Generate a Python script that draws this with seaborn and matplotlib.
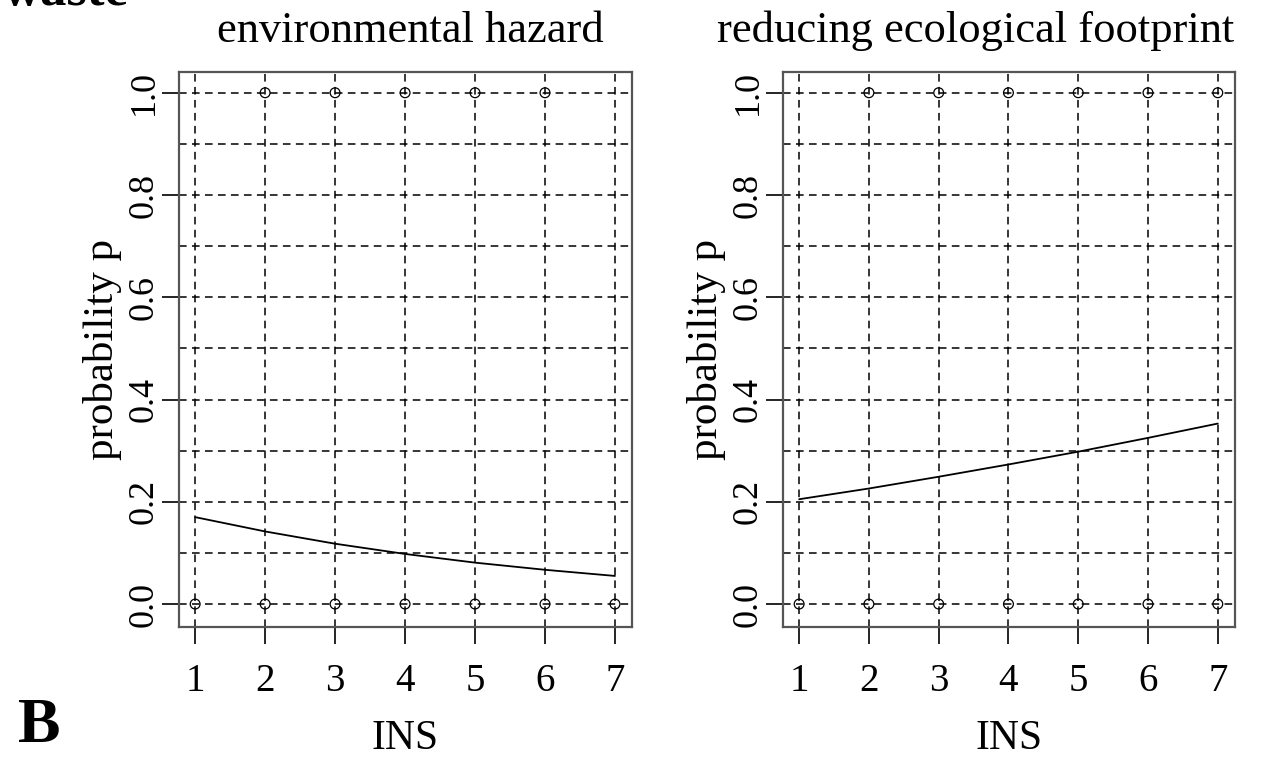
import numpy as np
import pandas as pd
import matplotlib
matplotlib.use("Agg")
import matplotlib.pyplot as plt
import seaborn as sns

# observed responses (open circles)
ins = [1, 2, 3, 4, 5, 6, 7]
hazard_ones = [2, 3, 4, 5, 6]
footprint_ones = [2, 3, 4, 5, 6, 7]
zeros = [1, 2, 3, 4, 5, 6, 7]

# fitted probability curves
hazard_p = [0.170, 0.142, 0.118, 0.098, 0.081, 0.067, 0.055]
footprint_p = [0.205, 0.226, 0.249, 0.273, 0.298, 0.325, 0.353]

titles = ["environmental hazard", "reducing ecological footprint"]
title_x = [0.512, 0.427]

sns.set_style("white")
plt.rcParams['font.family'] = ['Liberation Serif', 'DejaVu Serif']
plt.rcParams['text.color'] = 'black'
plt.rcParams['axes.labelcolor'] = 'black'
plt.rcParams['xtick.color'] = 'black'
plt.rcParams['ytick.color'] = 'black'

fig = plt.figure(figsize=(12.61, 7.61), dpi=100)
ax1 = fig.add_axes([0.142, 0.176, 0.359, 0.729])
ax2 = fig.add_axes([0.621, 0.176, 0.358, 0.729])

panels = [(ax1, hazard_ones, hazard_p, titles[0], title_x[0]),
          (ax2, footprint_ones, footprint_p, titles[1], title_x[1])]

for ax, ones, p, title, tx in panels:
    pts = pd.DataFrame({"x": list(zeros) + list(ones),
                        "y": [0] * len(zeros) + [1] * len(ones)})
    # grid first so it sits under the marks
    for v in np.arange(0, 1.01, 0.1):
        ax.axhline(v, color="black", ls=(0, (5, 3.5)), lw=1.1, zorder=1)
    for v in ins:
        ax.axvline(v, color="black", ls=(0, (5, 3.5)), lw=1.1, zorder=1)
    sns.scatterplot(data=pts, x="x", y="y", ax=ax, marker="o", s=50,
                    facecolor="none", edgecolor="black", linewidth=0.9,
                    zorder=3)
    sns.lineplot(x=ins, y=p, ax=ax, color="black", lw=1.3, zorder=3)
    ax.set_xlim(0.77, 7.24)
    ax.set_ylim(-0.045, 1.04)
    ax.set_xticks(ins)
    ax.set_yticks([0.0, 0.2, 0.4, 0.6, 0.8, 1.0])
    ax.set_yticklabels(["0.0", "0.2", "0.4", "0.6", "0.8", "1.0"],
                       rotation=90, va="center")
    ax.tick_params(axis="both", direction="out", length=12, width=1.2,
                   color="black", labelcolor="black", left=True, bottom=True)
    ax.tick_params(axis="x", pad=14, labelsize=28)
    ax.tick_params(axis="y", pad=1, labelsize=26)
    for s in ax.spines.values():
        s.set_color("#555555")
        s.set_linewidth(1.6)
    t = ax.set_title(title, fontsize=32, pad=22, color="black")
    t.set_x(tx)
    ax.set_xlabel("INS", fontsize=30, labelpad=14)
    ax.set_ylabel("probability p", fontsize=31, labelpad=4)

fig.text(0.002, 0.993, "waste", fontsize=38, fontweight="bold",
         va="baseline", ha="left")
fig.text(0.014, 0.025, "B", fontsize=46, fontweight="bold", va="baseline",
         ha="left")

fig.savefig("out.png", dpi=100)
